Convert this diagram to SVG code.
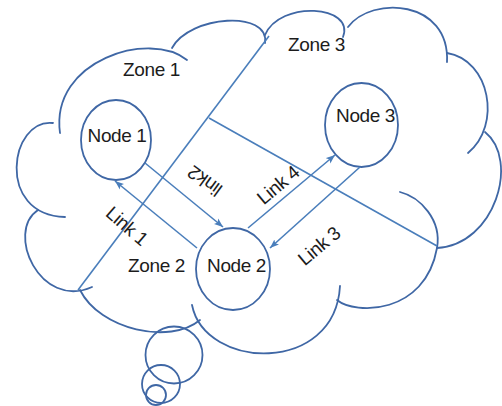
<svg xmlns="http://www.w3.org/2000/svg" width="502" height="406" viewBox="0 0 502 406">
  <defs>
    <style>
      .cloud { fill: none; stroke: #3F67A5; stroke-width: 1.8; stroke-linecap: round; }
      .bubble { fill: none; stroke: #3F67A5; stroke-width: 1.8; }
      .node { fill: none; stroke: #3F67A5; stroke-width: 1.8; }
      .edge { fill: none; stroke: #4A7EBB; stroke-width: 1.6; }
      .arrow { marker-end: url(#head); }
      .lbl { font-family: "Liberation Sans", Arial, sans-serif; font-size: 19px; fill: #1c1c1c; text-anchor: middle; letter-spacing: -0.4px; }
    </style>
    <marker id="head" markerUnits="userSpaceOnUse" markerWidth="10" markerHeight="8" refX="9" refY="4" orient="auto">
      <path d="M0,0.5 L9,4 L0,7.5 L2,4 Z" fill="#4A7EBB"/>
    </marker>
  </defs>

  <rect width="502" height="406" fill="#ffffff"/>

  <!-- cloud outline, one arc per lobe -->
  <g id="cloud">
    <path class="cloud" d="M53,123 C10,118 -5,215 65,217"/>
    <path class="cloud" d="M38,210 C5,232 40,310 92,287"/>
    <path class="cloud" d="M80,290 C100,330 170,345 200,320"/>
    <path class="cloud" d="M192,305 C205,370 335,375 340,286"/>
    <path class="cloud" d="M337,300 C355,315 425,315 437,248 C442,220 420,197 400,192"/>
    <path class="cloud" d="M437,248 C495,245 520,160 485,132"/>
    <path class="cloud" d="M447,53 C490,60 502,125 468,153"/>
    <path class="cloud" d="M348,27 C372,-5 450,0 447,62"/>
    <path class="cloud" d="M265,35 C280,0 355,5 343,37"/>
    <path class="cloud" d="M172,48 C190,15 270,10 265,43"/>
    <path class="cloud" d="M60,133 C50,60 150,30 187,60"/>
  </g>

  <!-- thought bubbles under the cloud -->
  <g id="bubbles">
    <circle class="bubble" cx="174" cy="355" r="28.5"/>
    <circle class="bubble" cx="161" cy="384" r="19"/>
    <circle class="bubble" cx="156" cy="395" r="10"/>
  </g>

  <!-- zone borders -->
  <g id="zone-borders">
    <line class="edge" x1="269" y1="36" x2="78" y2="290"/>
    <line class="edge" x1="209" y1="118" x2="437" y2="246"/>
  </g>

  <!-- zone labels -->
  <g id="zone1"><text class="lbl" x="151.5" y="76">Zone 1</text></g>
  <g id="zone2"><text class="lbl" x="156.5" y="272">Zone 2</text></g>
  <g id="zone3"><text class="lbl" x="316.5" y="51">Zone 3</text></g>

  <!-- nodes -->
  <g id="node1">
    <ellipse class="node" cx="116" cy="140" rx="35" ry="40"/>
    <text class="lbl" x="117" y="142">Node 1</text>
  </g>
  <g id="node2">
    <ellipse class="node" cx="233" cy="269" rx="37" ry="41"/>
    <text class="lbl" x="236.5" y="272">Node 2</text>
  </g>
  <g id="node3">
    <ellipse class="node" cx="361.5" cy="125" rx="36.5" ry="42"/>
    <text class="lbl" x="365.5" y="122">Node 3</text>
  </g>

  <!-- links between nodes -->
  <g id="connectors">
    <line class="edge arrow" x1="197" y1="248" x2="115" y2="181"/>
    <line class="edge arrow" x1="145" y1="163" x2="223" y2="227"/>
    <line class="edge arrow" x1="248" y1="228" x2="335" y2="155"/>
    <line class="edge arrow" x1="360" y1="167" x2="270" y2="248"/>
    <g transform="translate(127,226) rotate(41)"><text class="lbl" x="0" y="6.5">Link 1</text></g>
    <g transform="translate(205,181) rotate(216)"><text class="lbl" x="0" y="6.5">link2</text></g>
    <g transform="translate(278,185) rotate(-40)"><text class="lbl" x="0" y="6.5">Link 4</text></g>
    <g transform="translate(319,246) rotate(-40)"><text class="lbl" x="0" y="6.5">Link 3</text></g>
  </g>
</svg>
